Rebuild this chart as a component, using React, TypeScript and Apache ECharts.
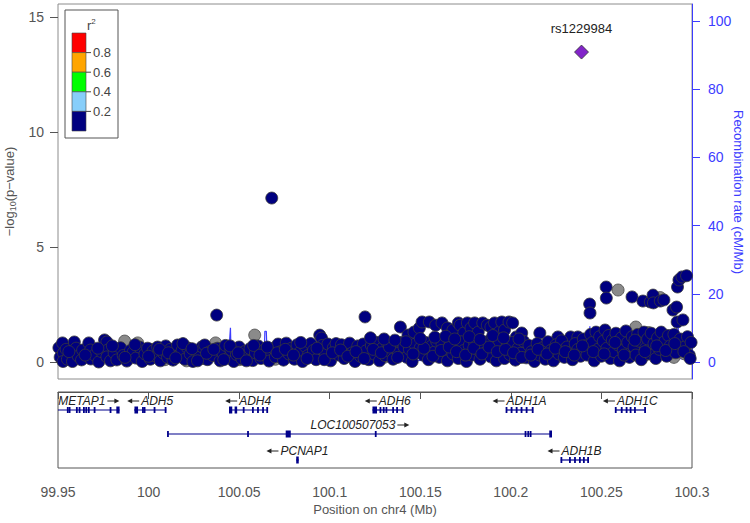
import React, { useEffect, useRef } from "react";
import * as echarts from "echarts";

// ---------- data ----------
const X_MIN = 99.95;
const X_MAX = 100.3;
const xTicks = [99.95, 100, 100.05, 100.1, 100.15, 100.2, 100.25, 100.3];
const pTicks = [0, 5, 10, 15];
const recombTicks = [0, 20, 40, 60, 80, 100];
const recombTitle = "Recombination rate (cM/Mb)";

const leadSnpName = "rs1229984";
const leadSnp: [number, number] = [100.239, 13.48];

// r2 < 0.2 (navy) SNPs: [position Mb, -log10 p]
const navySnps: [number, number][] = [
  [99.9505, 0.62], [99.9512, 0.21], [99.9525, 0.83], [99.953, 0.39], [99.9528, 0.02], [99.9545, 0.55], [99.9552, 0.12],
  [99.959, 0.87], [99.9585, 0.39], [99.958, 0.02], [99.96, 0.6], [99.9612, 0.25], [99.9636, 0.52], [99.963, 0.09],
  [99.967, 0.83], [99.968, 0.52], [99.9681, 0.13], [99.9702, 0.3], [99.9725, 0.0], [99.974, 0.45], [99.9757, 0.96],
  [99.977, 0.87], [99.9775, 0.52], [99.977, 0.22], [99.979, 0.05], [99.981, 0.39], [99.9825, 0.09], [99.9845, 0.62],
  [99.986, 0.28], [99.988, 0.04], [99.99, 0.5], [99.9915, 0.43], [99.993, 0.17], [99.995, 0.65], [99.9965, 0.02],
  [99.998, 0.35], [99.9995, 0.6], [100.001, 0.12], [100.0025, 0.48], [100.004, 0.25], [100.005, 0.65],
  [100.0065, 0.05], [100.008, 0.4], [100.0095, 0.7], [100.0105, 0.2], [100.012, 0.55], [100.0135, 0.08], [100.016, 0.74],
  [100.017, 0.3], [100.0185, 0.5], [100.02, 0.12], [100.0215, 0.62], [100.023, 0.35], [100.0245, 0.02], [100.026, 0.48],
  [100.028, 0.2], [100.0295, 0.66], [100.031, 0.74], [100.0325, 0.1], [100.034, 0.45], [100.0355, 0.28], [100.0376, 2.04],
  [100.038, 0.6], [100.0395, 0.05], [100.041, 0.38], [100.0425, 0.72], [100.044, 0.18], [100.0455, 0.52], [100.047, 0.02],
  [100.0485, 0.33], [100.05, 0.65], [100.0515, 0.14], [100.053, 0.45], [100.0545, 0.25], [100.056, 0.58], [100.0575, 0.06],
  [100.059, 0.4], [100.0605, 0.7], [100.062, 0.15], [100.0635, 0.5], [100.065, 0.3], [100.0665, 0.04], [100.068, 7.13],
  [100.069, 0.6], [100.07, 0.22], [100.0715, 0.78], [100.073, 0.45], [100.0745, 0.08], [100.076, 0.82], [100.0775, 0.35],
  [100.079, 0.6], [100.0805, 0.12], [100.082, 0.75], [100.0835, 0.42], [100.085, 0.02], [100.0865, 0.68], [100.088, 0.28],
  [100.0895, 0.8], [100.091, 0.5], [100.0925, 0.1], [100.0945, 1.17], [100.0955, 1.04], [100.096, 0.72], [100.0975, 0.35],
  [100.099, 0.78], [100.1005, 0.05], [100.102, 0.62], [100.1035, 0.8], [100.105, 0.3], [100.1065, 0.75], [100.108, 0.15],
  [100.1095, 0.55], [100.111, 0.82], [100.1125, 0.4], [100.114, 0.02], [100.1155, 0.7], [100.117, 0.25], [100.1185, 0.78],
  [100.1195, 1.96], [100.12, 0.48], [100.1215, 0.1], [100.123, 0.72], [100.1245, 0.35], [100.126, 0.85], [100.1275, 0.05],
  [100.129, 0.6], [100.1305, 0.28], [100.132, 0.8], [100.1335, 0.45], [100.135, 0.12], [100.1365, 0.75], [100.138, 0.38],
  [100.1395, 0.85], [100.141, 0.65], [100.1425, 0.2], [100.144, 0.55], [100.1455, 0.02], [100.147, 0.78], [100.1485, 0.4],
  [100.15, 0.62], [100.139, 1.52], [100.1432, 1.17], [100.1465, 1.3], [100.1495, 1.48], [100.151, 1.74], [100.155, 1.74],
  [100.1585, 1.6], [100.162, 1.7], [100.165, 1.48], [100.168, 1.39], [100.171, 1.7], [100.172, 1.6], [100.174, 1.26],
  [100.176, 1.7], [100.178, 1.48], [100.18, 1.7], [100.182, 1.3], [100.1845, 1.7], [100.187, 1.6], [100.189, 1.52],
  [100.191, 1.7], [100.1935, 1.3], [100.195, 1.74], [100.1965, 1.39], [100.198, 0.83], [100.199, 1.74], [100.201, 1.7],
  [100.203, 1.09], [100.206, 1.26], [100.216, 1.26], [100.226, 1.09], [100.233, 1.09], [100.237, 1.09],
  [100.1515, 0.3], [100.153, 0.85], [100.1545, 0.1], [100.156, 0.68], [100.1575, 0.42], [100.159, 0.9], [100.1605, 0.2],
  [100.162, 0.75], [100.1635, 0.48], [100.165, 0.05], [100.1665, 0.82], [100.168, 0.35], [100.1695, 0.65], [100.171, 0.15],
  [100.1725, 0.88], [100.174, 0.5], [100.1755, 0.02], [100.177, 0.72], [100.1785, 0.3], [100.18, 0.85], [100.1815, 0.55],
  [100.183, 0.12], [100.1845, 0.78], [100.186, 0.4], [100.1875, 0.9], [100.189, 0.22], [100.1905, 0.65], [100.192, 0.05],
  [100.1935, 0.8], [100.195, 0.45], [100.1965, 0.15], [100.198, 0.7], [100.1995, 0.32], [100.201, 0.85], [100.2025, 0.08],
  [100.204, 0.6], [100.2055, 0.38], [100.207, 0.9], [100.2085, 0.18], [100.21, 0.72], [100.2115, 0.45], [100.213, 0.02],
  [100.2145, 0.8], [100.216, 0.3], [100.2175, 0.62], [100.219, 0.12], [100.2205, 0.88], [100.222, 0.5], [100.2235, 0.05],
  [100.225, 0.75], [100.2265, 0.35], [100.228, 0.92], [100.2295, 0.2], [100.231, 0.65], [100.2325, 0.42], [100.234, 0.1],
  [100.2355, 0.8], [100.237, 0.55], [100.2385, 0.25], [100.24, 1.0], [100.241, 0.7], [100.242, 0.3], [100.2435, 2.52],
  [100.2437, 2.13], [100.244, 1.2], [100.245, 0.85], [100.246, 0.05], [100.247, 1.3], [100.248, 0.55], [100.249, 1.1],
  [100.25, 0.25], [100.251, 0.9], [100.252, 1.39], [100.2526, 3.26], [100.2527, 2.78], [100.253, 0.6], [100.254, 1.15],
  [100.255, 0.15], [100.256, 0.95], [100.257, 0.45], [100.258, 1.25], [100.259, 0.75], [100.26, 0.05], [100.261, 1.05],
  [100.262, 0.5], [100.2635, 1.35], [100.2645, 0.85], [100.2655, 0.2], [100.2669, 2.83], [100.267, 1.1], [100.268, 0.65],
  [100.269, 0.3], [100.27, 1.2], [100.271, 0.9], [100.272, 0.1], [100.2729, 2.65], [100.2735, 1.3], [100.2745, 0.6],
  [100.2755, 1.0], [100.2765, 0.35], [100.277, 2.61], [100.2775, 1.25], [100.2785, 2.91], [100.2787, 2.57], [100.279, 0.8],
  [100.28, 0.15], [100.281, 1.05], [100.282, 0.55], [100.2825, 2.65], [100.283, 1.3], [100.2845, 2.7], [100.285, 0.9],
  [100.286, 0.25], [100.287, 1.15], [100.288, 0.7], [100.2895, 2.26], [100.29, 1.2], [100.291, 0.4], [100.2915, 2.39],
  [100.2918, 1.74], [100.292, 3.26], [100.2928, 3.57], [100.2935, 1.0], [100.2945, 3.7], [100.295, 1.83], [100.296, 0.65],
  [100.297, 3.75], [100.2975, 1.1], [100.2985, 0.3], [100.2995, 0.85],
  [99.956, 0.45], [99.965, 0.3], [99.972, 0.6], [99.98, 0.7], [99.987, 0.2], [99.9925, 0.75], [100.0, 0.25], [100.006, 0.55],
  [100.011, 0.4], [100.015, 0.18], [100.019, 0.8], [100.024, 0.58], [100.027, 0.05], [100.032, 0.38], [100.036, 0.55],
  [100.0415, 0.1], [100.045, 0.7], [100.0495, 0.4], [100.054, 0.05], [100.058, 0.72], [100.0615, 0.3], [100.0655, 0.65],
  [100.071, 0.4], [100.0755, 0.55], [100.08, 0.3], [100.084, 0.85], [100.0875, 0.15], [100.093, 0.6], [100.097, 0.1],
  [100.1015, 0.4], [100.106, 0.52], [100.11, 0.25], [100.1145, 0.45], [100.119, 0.15], [100.124, 0.55], [100.1285, 0.4],
  [100.133, 0.65], [100.1375, 0.2], [100.142, 0.88], [100.146, 0.35], [100.152, 0.6], [100.157, 0.25], [100.1615, 0.5],
  [100.166, 0.65], [100.17, 0.45], [100.175, 0.3], [100.1795, 0.6], [100.184, 0.35], [100.188, 0.65], [100.1925, 0.45],
  [100.197, 0.55], [100.2015, 0.4], [100.206, 0.2], [100.211, 0.3], [100.215, 0.55], [100.22, 0.35], [100.2245, 0.6],
  [100.23, 0.45], [100.235, 0.3], [100.2395, 0.7], [100.2455, 0.45], [100.2515, 0.35], [100.2575, 0.85], [100.2625, 0.3],
  [100.2685, 0.95], [100.274, 0.45], [100.2805, 0.7], [100.2855, 0.5], [100.2905, 0.8], [100.2955, 0.45], [100.299, 0.15],
  [100.1225, 1.05], [100.13, 1.0], [100.136, 0.95], [100.15, 1.02], [100.158, 1.08], [100.164, 1.12], [100.169, 1.0],
  [100.177, 1.1], [100.183, 0.98], [100.19, 1.15], [100.196, 1.05], [100.2045, 1.0],
];

// r2 unknown (grey) SNPs
const graySnps: [number, number][] = [
  [99.9868, 0.91], [99.994, 0.83], [99.996, 0.4], [99.9985, 0.15], [100.002, 0.55], [100.005, 0.3], [100.009, 0.1],
  [100.013, 0.45], [100.0175, 0.22], [100.021, 0.05], [100.025, 0.38], [100.03, 0.15], [100.037, 0.83], [100.04, 0.25],
  [100.044, 0.45], [100.047, 0.3], [100.05, 0.1], [100.053, 0.35], [100.056, 0.2], [100.0586, 1.17], [100.06, 0.4],
  [100.063, 0.28], [100.066, 0.55], [100.07, 0.12], [100.074, 0.3], [100.079, 0.2], [100.085, 0.4], [100.092, 0.3],
  [100.1, 0.25], [100.13, 0.2], [100.17, 0.3], [100.2, 0.25], [100.225, 0.2], [100.244, 0.65], [100.248, 0.9],
  [100.25, 0.4], [100.254, 0.75], [100.257, 0.2], [100.2592, 3.13], [100.26, 0.55], [100.262, 1.05], [100.265, 0.45],
  [100.269, 1.52], [100.272, 0.7], [100.274, 0.3], [100.276, 1.28], [100.28, 0.6], [100.2825, 2.8], [100.284, 0.4],
  [100.287, 0.8], [100.29, 0.2], [100.293, 0.7], [100.296, 0.35],
];

// recombination rate (cM/Mb)
const recombPos = [99.95, 99.97, 100.0, 100.02, 100.044, 100.0452, 100.0456, 100.06, 100.0638, 100.0642, 100.065, 100.0655,
  100.08, 100.12, 100.16, 100.2, 100.24, 100.2432, 100.2436, 100.2441, 100.26, 100.28, 100.2905, 100.292, 100.2935, 100.3];
const recombRate = [0.3, 0.4, 0.3, 0.5, 0.6, 10, 0.8, 0.5, 0.8, 9, 9, 0.8,
  0.4, 0.5, 0.4, 0.5, 0.6, 0.8, 10.5, 1.0, 0.8, 1.0, 1.2, 13, 1.0, 0.8];

// LD legend
const ldBreaks = ["0.8", "0.6", "0.4", "0.2"];
const ldColors = ["#FF0000", "#FFA500", "#00FF00", "#87CEFA", "#000080"];

// genes
const geneNames = ["METAP1", "ADH5", "ADH4", "LOC100507053", "PCNAP1", "ADH6", "ADH1A", "ADH1C", "ADH1B"];
const geneStarts = [99.95, 99.992, 100.0444, 100.0107, 100.0815, 100.1236, 100.1973, 100.2575, 100.2275];
const geneEnds = [99.984, 100.0098, 100.0656, 100.2227, 100.0829, 100.1405, 100.2123, 100.2743, 100.2428];
const geneStrands = [1, -1, -1, 1, -1, -1, -1, -1, -1];
const geneRows = [0, 0, 0, 1, 2, 0, 0, 0, 2];
const geneExons: [number, number][][] = [
  [[99.9552, 99.9556], [99.9562, 99.9566], [99.9602, 99.9606], [99.9617, 99.9621], [99.9641, 99.9645], [99.9654, 99.9658],
   [99.9668, 99.9672], [99.97, 99.9704], [99.9788, 99.9792], [99.9822, 99.984]],
  [[99.9922, 99.9942], [99.9967, 99.9971], [99.9976, 99.998], [100.0031, 100.0035], [100.0092, 100.0096]],
  [[100.0444, 100.0462], [100.0475, 100.0489], [100.0523, 100.0527], [100.0574, 100.0578], [100.0602, 100.0606],
   [100.063, 100.0634], [100.0653, 100.0657]],
  [[100.0105, 100.0109], [100.0547, 100.0551], [100.0757, 100.0785], [100.1252, 100.1256], [100.2079, 100.2083],
   [100.2094, 100.2098], [100.2107, 100.2111], [100.2212, 100.2227]],
  [[100.0815, 100.0829]],
  [[100.1236, 100.1261], [100.1278, 100.1282], [100.1296, 100.13], [100.1311, 100.1315], [100.1348, 100.1352],
   [100.137, 100.1374], [100.14, 100.1405]],
  [[100.1973, 100.1979], [100.2001, 100.2007], [100.203, 100.2034], [100.2057, 100.2061], [100.2085, 100.2089],
   [100.2118, 100.2123]],
  [[100.2576, 100.2582], [100.2608, 100.2616], [100.2637, 100.2641], [100.2658, 100.2664], [100.2683, 100.2687],
   [100.2739, 100.2743]],
  [[100.2275, 100.2283], [100.2324, 100.2328], [100.2352, 100.2356], [100.2379, 100.2383], [100.2401, 100.2405],
   [100.2425, 100.2428]],
];

// ---------- styling ----------
const FONT = "'Liberation Sans', Arial, Helvetica, sans-serif";
const AXIS_GREY = "#555555";
const RECOMB_BLUE = "#3c3cff";
const GENE_COLOR = "#00008B";
const ROW_OFFSETS = [18, 42, 68]; // gene-axis units (px from panel top)

let measureCtx: CanvasRenderingContext2D | null = null;
function textWidth(s: string): number {
  if (!measureCtx) measureCtx = document.createElement("canvas").getContext("2d");
  if (!measureCtx) return s.length * 7;
  measureCtx.font = `italic 12px ${FONT}`;
  return measureCtx.measureText(s).width;
}

export default function App() {
  const ref = useRef<HTMLDivElement>(null);

  useEffect(() => {
    if (!ref.current) return;
    const chart = echarts.init(ref.current, null, { renderer: "svg" });

    // legend graphics
    const lx = 72, lw = 14, ly0 = 33, segH = 19.6;
    const graphics: any[] = [
      { type: "rect", shape: { x: 65, y: 10, width: 53, height: 128 }, style: { fill: "#fff", stroke: "#555", lineWidth: 1 } },
      { type: "text", x: 87, y: 33, style: { text: "{r|r}{s|2}", rich: { r: { fontSize: 13, fill: "#444", fontFamily: FONT }, s: { fontSize: 8, fill: "#444", fontFamily: FONT, verticalAlign: "top", padding: [0, 0, 8, 0] } }, verticalAlign: "bottom" } },
      // right axis title, reading top to bottom
      { type: "text", x: 738, y: 192, rotation: -Math.PI / 2, style: { text: recombTitle, fontSize: 13, fontFamily: FONT, fill: RECOMB_BLUE, align: "center", verticalAlign: "middle" } },
    ];
    ldColors.forEach((c, i) => {
      graphics.push({ type: "rect", shape: { x: lx, y: ly0 + i * segH, width: lw, height: segH }, style: { fill: c, stroke: "#444", lineWidth: 0.6 } });
    });
    ldBreaks.forEach((b, i) => {
      const y = ly0 + (i + 1) * segH;
      graphics.push({ type: "line", shape: { x1: lx + lw, y1: y, x2: lx + lw + 5, y2: y }, style: { stroke: "#444", lineWidth: 1 } });
      graphics.push({ type: "text", x: lx + lw + 7, y, style: { text: b, fontSize: 13, fontFamily: FONT, fill: "#444", verticalAlign: "middle", align: "left" } });
    });

    const option: any = {
      animation: false,
      textStyle: { fontFamily: FONT },
      grid: [
        { left: 58, right: 58, top: 4, height: 375, show: true, borderColor: "#8c8c8c", borderWidth: 1, backgroundColor: "transparent", containLabel: false, outerBoundsMode: "none" },
        { left: 58, right: 58, top: 392, height: 76, show: true, borderColor: "#555", borderWidth: 1, backgroundColor: "transparent", containLabel: false, outerBoundsMode: "none" },
      ],
      xAxis: [
        { type: "value", gridIndex: 0, min: X_MIN, max: X_MAX, show: false, splitLine: { show: false } },
        {
          type: "value", gridIndex: 1, min: X_MIN, max: X_MAX, position: "bottom",
          axisLine: { show: true, lineStyle: { color: AXIS_GREY } },
          axisTick: { show: true, length: 7, lineStyle: { color: AXIS_GREY }, customValues: xTicks },
          axisLabel: { color: AXIS_GREY, fontSize: 14, margin: 17, customValues: xTicks, formatter: (v: number) => String(+v.toFixed(2)) },
          splitLine: { show: false },
          name: "Position on chr4 (Mb)", nameLocation: "middle", nameGap: 35,
          nameTextStyle: { color: AXIS_GREY, fontSize: 13 },
        },
      ],
      yAxis: [
        {
          type: "value", gridIndex: 0, min: -0.74, max: 15.57, position: "left",
          axisLine: { show: false },
          axisTick: { show: true, length: 8, lineStyle: { color: AXIS_GREY }, customValues: pTicks },
          axisLabel: { color: AXIS_GREY, fontSize: 14, margin: 14, customValues: pTicks },
          splitLine: { show: false },
          name: "{a|−log}{b|10}{a|(p−value)}", nameLocation: "middle", nameGap: 38,
          nameTextStyle: {
            color: AXIS_GREY,
            rich: {
              a: { fontSize: 13, color: AXIS_GREY, fontFamily: FONT, lineHeight: 16 },
              b: { fontSize: 9, color: AXIS_GREY, fontFamily: FONT, lineHeight: 16, verticalAlign: "bottom", padding: [5, 0, 0, 0] },
            },
          },
        },
        {
          type: "value", gridIndex: 0, min: -5, max: 105, position: "right",
          axisLine: { show: true, lineStyle: { color: RECOMB_BLUE } },
          axisTick: { show: true, length: 8, lineStyle: { color: RECOMB_BLUE }, customValues: recombTicks },
          axisLabel: { color: RECOMB_BLUE, fontSize: 14, margin: 16, customValues: recombTicks },
          splitLine: { show: false },
        },
        { type: "value", gridIndex: 1, min: 0, max: 76, inverse: true, show: false },
      ],
      series: [
        {
          type: "line", xAxisIndex: 0, yAxisIndex: 1, z: 1,
          data: recombPos.map((p, i) => [p, recombRate[i]]),
          showSymbol: false, symbol: "none",
          lineStyle: { color: RECOMB_BLUE, width: 1.2 },
        },
        {
          type: "scatter", xAxisIndex: 0, yAxisIndex: 0, z: 2,
          data: graySnps, symbol: "circle", symbolSize: 12,
          itemStyle: { color: "#8a8a8a", borderColor: "#4a4a4a", borderWidth: 0.8, opacity: 1 },
        },
        {
          type: "scatter", xAxisIndex: 0, yAxisIndex: 0, z: 3,
          data: navySnps, symbol: "circle", symbolSize: 12,
          itemStyle: { color: "#000080", borderColor: "#3a3a3a", borderWidth: 0.8, opacity: 1 },
        },
        {
          type: "scatter", xAxisIndex: 0, yAxisIndex: 0, z: 4,
          data: [{ value: leadSnp, name: leadSnpName }], symbol: "diamond", symbolSize: 14,
          itemStyle: { color: "#8224c9", borderColor: "#333", borderWidth: 0.8, opacity: 1 },
          label: { show: true, position: "top", distance: 10, formatter: "{b}", color: "#222", fontSize: 13, fontFamily: FONT },
        },
        {
          type: "custom", xAxisIndex: 1, yAxisIndex: 2, z: 5,
          data: geneNames.map((_, i) => [i, geneStarts[i], geneEnds[i], ROW_OFFSETS[geneRows[i]]]),
          encode: { x: [1, 2], y: 3 },
          renderItem: (_params: any, api: any) => {
            const i = api.value(0) as number;
            const rowVal = ROW_OFFSETS[geneRows[i]];
            const ps = api.coord([geneStarts[i], rowVal]);
            const pe = api.coord([geneEnds[i], rowVal]);
            const y = ps[1];
            const children: any[] = [];
            children.push({ type: "line", shape: { x1: ps[0], y1: y, x2: pe[0], y2: y }, style: { stroke: GENE_COLOR, lineWidth: 1.2 } });
            geneExons[i].forEach(([a, b]) => {
              const xa = api.coord([a, rowVal])[0];
              const xb = api.coord([b, rowVal])[0];
              const w = Math.max(1.8, xb - xa);
              const h = xb - xa > 2 ? 7 : 6;
              children.push({ type: "rect", shape: { x: (xa + xb) / 2 - w / 2, y: y - h / 2, width: w, height: h }, style: { fill: GENE_COLOR } });
            });
            const name = geneNames[i];
            const tw = textWidth(name);
            const arrowLen = 12, gap = 2;
            const total = tw + gap + arrowLen;
            const cx = (ps[0] + pe[0]) / 2;
            const ly = y - 9;
            const left = cx - total / 2;
            let textX: number, ax0: number, ax1: number;
            if (geneStrands[i] > 0) {
              textX = left; ax0 = left + tw + gap; ax1 = left + total;
            } else {
              textX = left + arrowLen + gap; ax0 = left + arrowLen; ax1 = left;
            }
            const dir = ax1 > ax0 ? 1 : -1;
            children.push({ type: "text", x: textX, y: ly, style: { text: name, fontSize: 12, fontStyle: "italic", fontFamily: FONT, fill: "#222", align: "left", verticalAlign: "middle" } });
            children.push({ type: "line", shape: { x1: ax0, y1: ly, x2: ax1 - dir * 3, y2: ly }, style: { stroke: "#222", lineWidth: 1 } });
            children.push({ type: "polygon", shape: { points: [[ax1, ly], [ax1 - dir * 5, ly - 2.5], [ax1 - dir * 5, ly + 2.5]] }, style: { fill: "#222" } });
            return { type: "group", children };
          },
        },
      ],
      graphic: graphics,
    };

    chart.setOption(option);
    return () => chart.dispose();
  }, []);

  return <div ref={ref} style={{ position: "fixed", left: 0, top: 0, width: 750, height: 523, background: "#fff" }} />;
}
